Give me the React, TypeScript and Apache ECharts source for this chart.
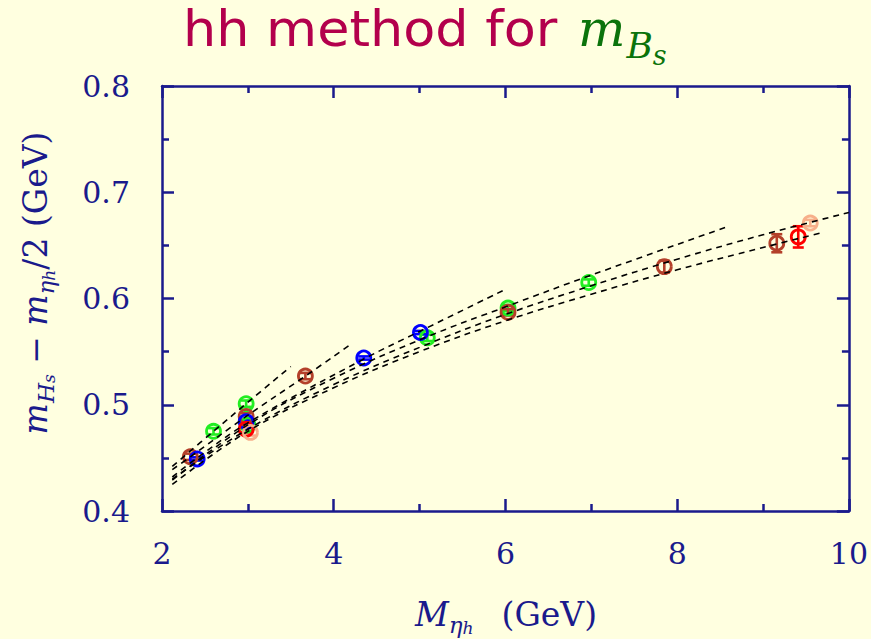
import React, { useEffect, useRef } from "react";
import * as echarts from "echarts";

const NAVY = "#1a1a8c";
const BG = "#ffffe0";

// ---- data points (M_eta_h in GeV, m_Hs - m_eta_h/2 in GeV, error) ----
const greenX = [2.6, 2.98, 3.0, 5.09, 6.03, 6.97];
const greenY = [0.475, 0.501, 0.481, 0.563, 0.591, 0.615];
const greenErr = [0.003, 0.003, 0.003, 0.003, 0.003, 0.003];

const brownX = [2.33, 2.98, 3.67, 6.03, 7.85, 9.16];
const brownY = [0.451, 0.489, 0.527, 0.587, 0.63, 0.652];
const brownErr = [0.003, 0.003, 0.003, 0.003, 0.0055, 0.0085];

const blueX = [2.41, 2.98, 4.35, 5.01];
const blueY = [0.449, 0.484, 0.544, 0.568];
const blueErr = [0.0015, 0.0015, 0.0015, 0.0015];

const redX = [2.98, 9.41];
const redY = [0.477, 0.658];
const redErr = [0.003, 0.01];

const salmonX = [3.03, 9.55];
const salmonY = [0.474, 0.671];
const salmonErr = [0.003, 0.003];

// ---- dashed fit curves ----
const fitAX = [2.12, 2.6, 2.98, 3.5];
const fitAY = [0.442, 0.475, 0.501, 0.536];
const fitBX = [2.12, 2.33, 2.98, 3.67, 4.2];
const fitBY = [0.439, 0.451, 0.489, 0.527, 0.557];
const fitCX = [2.12, 2.41, 3.0, 4.35, 5.0, 6.01];
const fitCY = [0.432, 0.45, 0.483, 0.543, 0.569, 0.609];
const fitDX = [2.12, 3.0, 4.0, 5.09, 6.03, 7.0, 8.6];
const fitDY = [0.429, 0.481, 0.525, 0.564, 0.593, 0.622, 0.668];
const fitEX = [2.12, 3, 4, 5, 6, 7, 8, 9, 10];
const fitEY = [0.43, 0.477, 0.519, 0.554, 0.585, 0.612, 0.637, 0.66, 0.681];
const fitFX = [2.12, 3, 4, 5, 6, 7, 8, 9, 9.69];
const fitFY = [0.425, 0.475, 0.516, 0.55, 0.579, 0.604, 0.627, 0.648, 0.662];

// ---- axes ----
const xMin = 2;
const xMax = 10;
const xStep = 2;
const yMin = 0.4;
const yMax = 0.8;
const yStep = 0.1;

const groups = [
  { name: "green", color: "#22ee22", x: greenX, y: greenY, err: greenErr },
  { name: "brown", color: "#b4402a", x: brownX, y: brownY, err: brownErr },
  { name: "blue", color: "#0000ff", x: blueX, y: blueY, err: blueErr },
  { name: "red", color: "#ff0000", x: redX, y: redY, err: redErr },
  { name: "salmon", color: "#f7b08a", x: salmonX, y: salmonY, err: salmonErr },
];

const fits = [
  [fitAX, fitAY],
  [fitBX, fitBY],
  [fitCX, fitCY],
  [fitDX, fitDY],
  [fitEX, fitEY],
  [fitFX, fitFY],
];

const SERIF = "DejaVu Serif";
const GREEN_T = "#0b730b";

function axisCommon(show: boolean) {
  return {
    axisLine: { show: true, onZero: false, lineStyle: { color: NAVY, width: 2.5 } },
    axisTick: { show: true, inside: true, length: 12, lineStyle: { color: NAVY, width: 2.5 } },
    minorTick: { show: true, splitNumber: 2, length: 7, lineStyle: { color: NAVY, width: 2.5 } },
    splitLine: { show: false },
    minorSplitLine: { show: false },
    axisLabel: {
      show,
      color: NAVY,
      fontFamily: SERIF,
      fontSize: 30,
    },
  };
}

export default function App() {
  const ref = useRef<HTMLDivElement>(null);
  useEffect(() => {
    if (!ref.current) return;
    const chart = echarts.init(ref.current, undefined, { renderer: "svg" });

    const series: any[] = [];
    groups.forEach((g) => {
      series.push({
        type: "custom",
        name: g.name + "-err",
        coordinateSystem: "cartesian2d",
        xAxisIndex: 0,
        yAxisIndex: 0,
        z: 2,
        silent: true,
        encode: { x: 0, y: [1, 2] },
        data: g.x.map((x, i) => [x, g.y[i] - g.err[i], g.y[i] + g.err[i]]),
        renderItem: (params: any, api: any) => {
          const x = api.value(0);
          const lo = api.value(1);
          const hi = api.value(2);
          const p1 = api.coord([x, hi]);
          const p2 = api.coord([x, lo]);
          const hw = 5.5;
          const style = { stroke: g.color, lineWidth: 2.6, fill: "none" };
          return {
            type: "group",
            children: [
              { type: "line", shape: { x1: p1[0], y1: p1[1], x2: p2[0], y2: p2[1] }, style },
              { type: "line", shape: { x1: p1[0] - hw, y1: p1[1], x2: p1[0] + hw, y2: p1[1] }, style },
              { type: "line", shape: { x1: p2[0] - hw, y1: p2[1], x2: p2[0] + hw, y2: p2[1] }, style },
            ],
          };
        },
      });
      series.push({
        type: "scatter",
        name: g.name,
        xAxisIndex: 0,
        yAxisIndex: 0,
        z: 2,
        symbol: "circle",
        symbolSize: 14,
        itemStyle: { color: "transparent", borderColor: g.color, borderWidth: 2.8, opacity: 1 },
        data: g.x.map((x, i) => [x, g.y[i]]),
      });
    });

    fits.forEach(([fx, fy], k) => {
      series.push({
        type: "line",
        name: "fit" + k,
        xAxisIndex: 0,
        yAxisIndex: 0,
        z: 3,
        silent: true,
        smooth: 0.4,
        symbol: "none",
        showSymbol: false,
        lineStyle: { color: "#000", width: 1.6, type: [6, 5] },
        data: fx.map((x, i) => [x, fy[i]]),
      });
    });

    const option: any = {
      animation: false,
      backgroundColor: BG,
      grid: { left: 162, right: 20, top: 86, bottom: 128, containLabel: false },
      xAxis: [
        {
          type: "value",
          position: "bottom",
          min: xMin,
          max: xMax,
          interval: xStep,
          ...axisCommon(true),
          axisLabel: { ...axisCommon(true).axisLabel, margin: 27 },
        },
        {
          type: "value",
          position: "top",
          min: xMin,
          max: xMax,
          interval: xStep,
          ...axisCommon(false),
        },
      ],
      yAxis: [
        {
          type: "value",
          position: "left",
          min: yMin,
          max: yMax,
          interval: yStep,
          ...axisCommon(true),
          axisLabel: {
            ...axisCommon(true).axisLabel,
            margin: 32,
            formatter: (v: number) => v.toFixed(1),
          },
        },
        {
          type: "value",
          position: "right",
          min: yMin,
          max: yMax,
          interval: yStep,
          ...axisCommon(false),
        },
      ],
      graphic: [
        {
          type: "text",
          x: 183,
          y: 29,
          scaleX: 1.07,
          silent: true,
          style: {
            text: "hh method for",
            font: "49px 'DejaVu Sans'",
            fill: "#b3004c",
            textAlign: "left",
            textVerticalAlign: "middle",
          },
        },
        {
          type: "text",
          x: 578,
          y: 0,
          silent: true,
          style: {
            text: "{m|m}{b|B}{s|s}",
            textAlign: "left",
            textVerticalAlign: "top",
            rich: {
              m: { fontFamily: SERIF, fontStyle: "italic", fontSize: 50, fill: GREEN_T, verticalAlign: "top", padding: [4, 0, 0, 0] },
              b: { fontFamily: SERIF, fontStyle: "italic", fontSize: 36, fill: GREEN_T, verticalAlign: "top", padding: [27, 0, 0, 1] },
              s: { fontFamily: SERIF, fontStyle: "italic", fontSize: 27, fill: GREEN_T, verticalAlign: "top", padding: [42, 0, 0, 0] },
            },
          },
        },
        {
          type: "text",
          x: 506,
          y: 614,
          silent: true,
          style: {
            text: "{i|M}{s1|η}{s2|h}{n|(GeV)}",
            textAlign: "center",
            textVerticalAlign: "middle",
            rich: {
              i: { fontFamily: SERIF, fontStyle: "italic", fontSize: 33, lineHeight: 44, fill: NAVY, verticalAlign: "middle" },
              s1: { fontFamily: SERIF, fontStyle: "italic", fontSize: 23, lineHeight: 24, fill: NAVY, verticalAlign: "bottom" },
              s2: { fontFamily: SERIF, fontStyle: "italic", fontSize: 17, lineHeight: 12, fill: NAVY, verticalAlign: "bottom" },
              n: { fontFamily: SERIF, fontSize: 33, lineHeight: 44, fill: NAVY, verticalAlign: "middle", padding: [0, 0, 0, 28] },
            },
          },
        },
        {
          type: "text",
          x: 35,
          y: 283,
          rotation: Math.PI / 2,
          silent: true,
          style: {
            text: "{i|m}{s1|H}{s2|s}{n| − }{i|m}{s1|η}{s2|h}{n|/2 (GeV)}",
            textAlign: "center",
            textVerticalAlign: "middle",
            rich: {
              i: { fontFamily: SERIF, fontStyle: "italic", fontSize: 33, lineHeight: 44, fill: NAVY, verticalAlign: "middle" },
              s1: { fontFamily: SERIF, fontStyle: "italic", fontSize: 23, lineHeight: 24, fill: NAVY, verticalAlign: "bottom" },
              s2: { fontFamily: SERIF, fontStyle: "italic", fontSize: 17, lineHeight: 12, fill: NAVY, verticalAlign: "bottom" },
              n: { fontFamily: SERIF, fontSize: 33, lineHeight: 44, fill: NAVY, verticalAlign: "middle" },
            },
          },
        },
      ],
      series,
    };

    chart.setOption(option);
    return () => chart.dispose();
  }, []);

  return (
    <div
      ref={ref}
      style={{ position: "fixed", left: 0, top: 0, width: 871, height: 639, background: BG }}
    />
  );
}
